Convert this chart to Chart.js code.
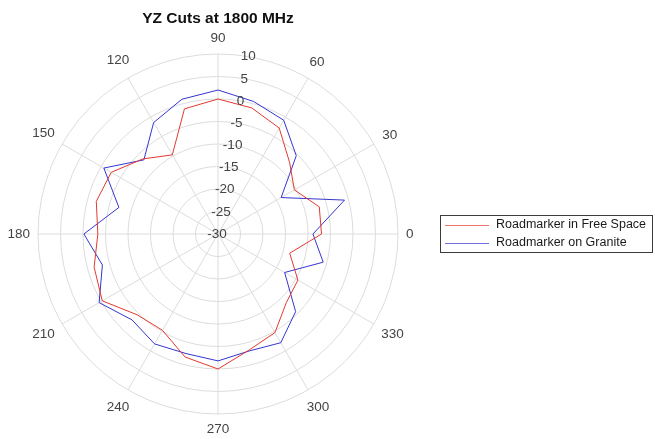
<!DOCTYPE html>
<html>
<head>
<meta charset="utf-8">
<script src="https://cdn.jsdelivr.net/npm/chart.js@4.4.0/dist/chart.umd.min.js"></script>
<style>
  html, body { margin: 0; padding: 0; background: #fff; }
  #wrap { width: 655px; height: 439px; }
</style>
</head>
<body>
<div id="wrap"><canvas id="polarChart" width="655" height="439"></canvas></div>
<script>
// angles in degrees (counter clockwise from the right), one point every 15 deg
var angles = [0, 15, 30, 45, 60, 75, 90, 105, 120, 135, 150, 165,
              180, 195, 210, 225, 240, 255, 270, 285, 300, 315, 330, 345];
// gain in dB
var freeSpace = [-7.0, -6.7, -10.4, -7.5, -2.8, -1.0, 0.0, -1.2, -9.7, -6.4, -2.6, -2.0,
                 -3.3, -1.5, -0.3, -4.6, -5.3, -1.7, 0.0, -3.3, -4.7, -8.5, -9.5, -13.5];
var granite = [-8.9, -0.9, -13.8, -5.4, -0.8, 0.5, 2.0, 1.0, -1.4, -6.7, -0.7, -7.2,
               -0.2, -3.4, 0.5, -3.0, -1.8, -2.5, -1.8, -3.1, -2.1, -5.6, -12.9, -5.8];
var rTicks = [-30, -25, -20, -15, -10, -5, 0, 5, 10];
var angleTicks = [0, 30, 60, 90, 120, 150, 180, 210, 240, 270, 300, 330];
var seriesNames = ["Roadmarker in Free Space", "Roadmarker on Granite"];

var FONT = '"Liberation Sans", Arial, sans-serif';

// radar goes clockwise, so walk the angles backwards starting at 0
var order = angles.map(function(a, i) { return (angles.length - i) % angles.length; });
var labels = order.map(function(k) { return String(angles[k]); });
function reorder(arr) { return order.map(function(k) { return arr[k]; }); }

// tick labels, angle labels and legend drawn by hand (matlab style)
var polarText = {
  id: 'polarText',
  afterDraw: function(chart) {
    var ctx = chart.ctx;
    var sc = chart.scales.r;
    var cx = sc.xCenter, cy = sc.yCenter;
    ctx.save();
    ctx.font = '13.5px ' + FONT;
    ctx.fillStyle = '#444';
    ctx.textAlign = 'center';
    ctx.textBaseline = 'middle';

    // radial ticks along the 80 deg line
    var ta = 80 * Math.PI / 180;
    rTicks.forEach(function(v) {
      var d = sc.getDistanceFromCenterForValue(v);
      ctx.fillText(String(v), cx + Math.cos(ta) * d - 1, cy - Math.sin(ta) * d);
    });

    // angle labels round the outside
    angleTicks.forEach(function(a) {
      var t = a * Math.PI / 180;
      var w = ctx.measureText(String(a)).width;
      var d = sc.drawingArea + 8 + Math.abs(Math.cos(t)) * w / 2 + Math.abs(Math.sin(t)) * 7.5;
      ctx.fillText(String(a), cx + Math.cos(t) * d, cy - Math.sin(t) * d);
    });

    // legend box
    var bx = 440.5, by = 215.5, bw = 212, bh = 37;
    ctx.fillStyle = '#fff';
    ctx.fillRect(bx, by, bw, bh);
    ctx.strokeStyle = '#3c3c3c';
    ctx.lineWidth = 1;
    ctx.strokeRect(bx, by, bw, bh);
    ctx.textAlign = 'left';
    ctx.font = '12.5px ' + FONT;
    chart.data.datasets.forEach(function(ds, i) {
      var y = 225 + i * 18;
      ctx.globalAlpha = 0.7;
      ctx.strokeStyle = ds.borderColor;
      ctx.beginPath();
      ctx.moveTo(445, y + 0.5);
      ctx.lineTo(489, y + 0.5);
      ctx.stroke();
      ctx.globalAlpha = 1;
      ctx.fillStyle = '#1a1a1a';
      ctx.fillText(ds.label, 496, y);
    });
    ctx.restore();
  }
};

var ctxP = document.getElementById('polarChart').getContext('2d');
var polarChart = new Chart(ctxP, {
  type: 'radar',
  data: {
    labels: labels,
    datasets: [{
        label: seriesNames[0],
        data: reorder(freeSpace),
        borderColor: '#e2392f',
        borderWidth: 1,
        fill: false,
        pointRadius: 0,
        tension: 0
      },
      {
        label: seriesNames[1],
        data: reorder(granite),
        borderColor: '#3535d0',
        borderWidth: 1,
        fill: false,
        pointRadius: 0,
        tension: 0
      }
    ]
  },
  options: {
    responsive: false,
    animation: false,
    layout: {
      padding: { left: 38, right: 257, top: 0, bottom: 25 }
    },
    plugins: {
      legend: { display: false },
      tooltip: { enabled: false },
      title: {
        display: true,
        text: 'YZ Cuts at 1800 MHz',
        color: '#111',
        font: { family: FONT, size: 15.5, weight: 'bold' },
        padding: { top: 9, bottom: 26.4 }
      }
    },
    scales: {
      r: {
        min: -30,
        max: 10,
        startAngle: 90,
        ticks: { display: false, stepSize: 5 },
        pointLabels: { display: false },
        grid: { circular: true, color: '#dcdcdc', lineWidth: 1 },
        angleLines: {
          color: '#dcdcdc',
          lineWidth: function(c) { return c.index % 2 === 0 ? 1 : 0; }
        }
      }
    }
  },
  plugins: [polarText]
});
</script>
</body>
</html>
